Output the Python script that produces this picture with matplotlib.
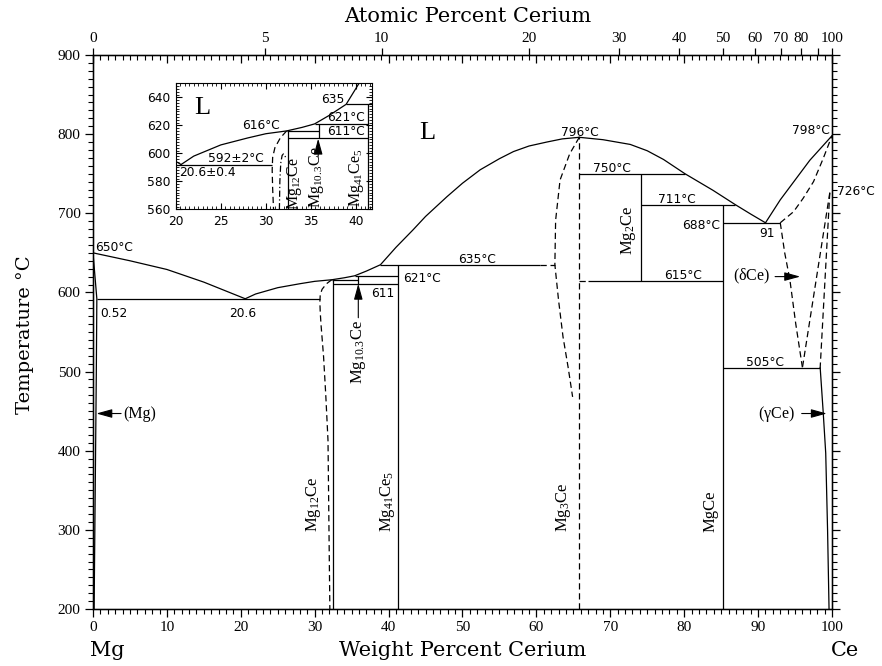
import numpy as np
import matplotlib
matplotlib.use('Agg')
import matplotlib.pyplot as plt
from matplotlib.ticker import MultipleLocator, FixedLocator, NullFormatter

plt.rcParams['mathtext.default'] = 'regular'

M_CE = 140.116
M_MG = 24.305


def at_to_wt(a):
    a = np.asarray(a, dtype=float)
    return 100 * a * M_CE / (a * M_CE + (100 - a) * M_MG)


# phase boundaries: weight percent Ce, temperature in degC
liq_mg_w = [0, 5, 10, 15, 20.6]
liq_mg_t = [650, 640, 629, 613, 592]

liq_mid_w = [20.6, 22, 25, 28, 30, 32.3, 34, 35.4, 37, 38.9, 41, 43.3, 45, 47.9,
             50, 52.4, 55, 56.9, 59, 61.4, 63.5, 65.8]
liq_mid_t = [592, 598, 606, 611, 614, 616, 618.5, 621, 627, 635, 657, 679, 696, 721,
             738, 755, 769, 778, 785, 790, 794, 796]

liq_ce_w = [65.8, 69, 72.7, 75, 77.2, 80.1, 83.9, 86.9, 89, 91]
liq_ce_t = [796, 793, 787, 779, 768, 750, 729, 711, 699, 688]

liq_end_w = [91, 93, 95, 97, 100]
liq_end_t = [688, 717, 742, 767, 798]

mg_solvus_w = [0, 0.52, 0.45, 0.35, 0.25, 0.15]
mg_solvus_t = [650, 592, 500, 400, 300, 200]

mg12_bound_w = [32.3, 31.6, 31.0, 30.75, 30.7, 30.75, 30.85, 31.2, 31.5, 31.8, 32.05]
mg12_bound_t = [616, 611, 604, 597, 588, 575, 560, 519, 470, 413, 200]

mg12_meta_w = [31.5, 31.55, 31.65, 31.8, 31.95, 32.1, 32.25]
mg12_meta_t = [560, 580, 593, 598.5, 599.6, 598.5, 596]

mg3_bound_w = [65.8, 64.5, 63.2, 62.6, 62.5, 63.0, 63.6, 64.3, 64.9]
mg3_bound_t = [796, 775, 742, 691, 635, 590, 544, 505, 468]

dce_solidus_w = [93, 94.8, 96.1, 97.5, 98.8, 100]
dce_solidus_t = [688, 702, 719, 740, 769, 798]

dce_solvus_w = [93, 93.6, 94.3, 95.1, 96]
dce_solvus_t = [688, 650, 616, 560, 505]

gd_left_w = [99.7, 96.0]
gd_left_t = [726, 505]
gd_right_w = [99.7, 98.4]
gd_right_t = [726, 505]

gce_solvus_w = [98.4, 98.8, 99.15, 99.4, 99.6]
gce_solvus_t = [505, 450, 397, 300, 200]

# invariant horizontals
iso_t = [592, 616, 611, 621, 635, 750, 711, 688, 615, 505]
iso_w0 = [0.52, 32.3, 32.45, 35.4, 38.9, 65.8, 74.2, 85.2, 67.0, 85.2]
iso_w1 = [30.7, 35.9, 41.3, 41.3, 60.5, 80.1, 86.9, 93.0, 85.2, 98.4]
iso_dash_t = [635, 615]
iso_dash_w0 = [60.5, 65.8]
iso_dash_w1 = [62.5, 67.0]

# compound lines
comp_w = [32.45, 35.9, 41.3, 74.2, 85.2]
comp_t0 = [200, 611, 200, 615, 200]
comp_t1 = [616, 621, 635, 750, 711]
mg3ce_w = 65.8
mg3ce_t = [200, 796]

at_ticks = [0, 5, 10, 20, 30, 40, 50, 60, 70, 80, 90, 100]
at_labels = ['0', '5', '10', '20', '30', '40', '50', '60', '70', '80', '', '100']

SOLID = dict(color='k', lw=0.9)
DASHED = dict(color='k', lw=0.9, ls=(0, (5, 3)))
SANS = 'DejaVu Sans'
SERIF = 'Liberation Serif'
LABEL = 'DejaVu Serif'


def draw_lines(ax):
    ax.plot(liq_mg_w, liq_mg_t, **SOLID)
    ax.plot(liq_mid_w, liq_mid_t, **SOLID)
    ax.plot(liq_ce_w, liq_ce_t, **SOLID)
    ax.plot(liq_end_w, liq_end_t, **SOLID)
    ax.plot(mg_solvus_w, mg_solvus_t, **SOLID)
    ax.plot(gce_solvus_w, gce_solvus_t, **SOLID)
    ax.plot(mg12_bound_w, mg12_bound_t, **DASHED)
    ax.plot(mg3_bound_w, mg3_bound_t, **DASHED)
    ax.plot(dce_solidus_w, dce_solidus_t, **DASHED)
    ax.plot(dce_solvus_w, dce_solvus_t, **DASHED)
    ax.plot(gd_left_w, gd_left_t, **DASHED)
    ax.plot(gd_right_w, gd_right_t, **DASHED)
    ax.hlines(iso_t, iso_w0, iso_w1, **SOLID)
    ax.hlines(iso_dash_t, iso_dash_w0, iso_dash_w1, colors='k', lw=0.9,
              linestyles=[(0, (5, 3))])
    ax.vlines(comp_w, comp_t0, comp_t1, **SOLID)
    ax.vlines(mg3ce_w, mg3ce_t[0], mg3ce_t[1], colors='k', lw=0.9,
              linestyles=[(0, (5, 3))])


def arrow(ax, tip, tail):
    ax.annotate('', xy=tip, xytext=tail,
                arrowprops=dict(arrowstyle='-|>,head_length=0.8,head_width=0.22',
                                color='k', lw=0.8, mutation_scale=12,
                                shrinkA=0, shrinkB=0))


fig = plt.figure(figsize=(8.82, 6.66), dpi=100)
ax = fig.add_axes([0.10544, 0.08559, 0.83787, 0.83183])
draw_lines(ax)
ax.set_xlim(0, 100)
ax.set_ylim(200, 900)
ax.xaxis.set_major_locator(MultipleLocator(10))
ax.xaxis.set_minor_locator(MultipleLocator(1))
ax.yaxis.set_major_locator(MultipleLocator(100))
ax.yaxis.set_minor_locator(MultipleLocator(10))
ax.tick_params(which='both', direction='out', left=True, right=True, top=False)
ax.tick_params(which='major', length=6, width=0.9, pad=3)
ax.tick_params(which='minor', length=3.5, width=0.8)
for lab in ax.get_xticklabels() + ax.get_yticklabels():
    lab.set_fontfamily(SERIF)
    lab.set_fontsize(11)
for sp in ax.spines.values():
    sp.set_linewidth(1.0)

# weight percent ticks along the top, pointing inward
axw = ax.twiny()
axw.set_xlim(0, 100)
axw.xaxis.set_major_locator(MultipleLocator(10))
axw.xaxis.set_minor_locator(MultipleLocator(1))
axw.xaxis.set_major_formatter(NullFormatter())
axw.tick_params(which='both', direction='in', top=True, bottom=False)
axw.tick_params(which='major', length=6, width=0.9)
axw.tick_params(which='minor', length=3.5, width=0.8)

# atomic percent scale
axa = ax.twiny()
axa.set_xlim(0, 100)
axa.xaxis.set_major_locator(FixedLocator(at_to_wt(at_ticks)))
axa.set_xticklabels(at_labels, fontfamily=SERIF, fontsize=11)
axa.tick_params(which='major', direction='out', length=5, width=0.9, pad=2)
axa.tick_params(which='minor', length=0)

fig.text(468 / 882, 1 - 16 / 666, 'Atomic Percent Cerium', ha='center', va='center',
         fontfamily=LABEL, fontsize=15)
fig.text(463 / 882, 1 - 651 / 666, 'Weight Percent Cerium', ha='center', va='center',
         fontfamily=LABEL, fontsize=15)
fig.text(107 / 882, 1 - 651 / 666, 'Mg', ha='center', va='center',
         fontfamily=LABEL, fontsize=15)
fig.text(845 / 882, 1 - 651 / 666, 'Ce', ha='center', va='center',
         fontfamily=LABEL, fontsize=15)
fig.text(25 / 882, 1 - 335 / 666, 'Temperature °C', ha='center', va='center',
         rotation=90, fontfamily=LABEL, fontsize=14)

# annotations on the main diagram
txt = dict(fontfamily=SANS, fontsize=8.8)
ax.text(0.3, 657, '650°C', ha='left', va='center', **txt)
ax.text(0.95, 574, '0.52', ha='left', va='center', **txt)
ax.text(20.3, 574, '20.6', ha='center', va='center', **txt)
ax.text(39.2, 599, '611', ha='center', va='center', **txt)
ax.text(41.9, 618, '621°C', ha='left', va='center', **txt)
ax.text(52.0, 642, '635°C', ha='center', va='center', **txt)
ax.text(65.9, 802, '796°C', ha='center', va='center', **txt)
ax.text(70.2, 757, '750°C', ha='center', va='center', **txt)
ax.text(79.0, 718, '711°C', ha='center', va='center', **txt)
ax.text(84.8, 685, '688°C', ha='right', va='center', **txt)
ax.text(91.2, 675, '91', ha='center', va='center', **txt)
ax.text(79.9, 621, '615°C', ha='center', va='center', **txt)
ax.text(90.9, 512, '505°C', ha='center', va='center', **txt)
ax.text(99.7, 804, '798°C', ha='right', va='center', **txt)
ax.text(100.7, 727, '726°C', ha='left', va='center', **txt)
ax.text(45.3, 801, 'L', ha='center', va='center', fontfamily=SERIF, fontsize=19)

ser = dict(fontfamily=SERIF, fontsize=11.5)
ax.text(4.1, 447, '(Mg)', ha='left', va='center', **ser)
arrow(ax, (0.45, 447), (3.8, 447))
ax.text(89.1, 620, r'($\delta$Ce)', ha='center', va='center', **ser)
arrow(ax, (95.7, 620), (92.3, 620))
ax.text(92.5, 447, r'($\gamma$Ce)', ha='center', va='center', **ser)
arrow(ax, (99.3, 447), (95.9, 447))

rot = dict(rotation=90, ha='center', fontfamily=SERIF, fontsize=12)
ax.text(29.8, 297, 'Mg$_{12}$Ce', va='bottom', **rot)
ax.text(39.9, 297, 'Mg$_{41}$Ce$_5$', va='bottom', **rot)
ax.text(63.6, 297, 'Mg$_3$Ce', va='bottom', **rot)
ax.text(83.5, 297, 'MgCe', va='bottom', **rot)
ax.text(72.5, 679, 'Mg$_2$Ce', va='center', **rot)
ax.text(35.9, 484, 'Mg$_{10.3}$Ce', va='bottom', **rot)
arrow(ax, (35.9, 611), (35.9, 568))

# enlarged view of the Mg-rich eutectic region
axi = fig.add_axes([0.1992, 0.6857, 0.2229, 0.1892])
axi.set_facecolor('white')
draw_lines(axi)
axi.plot(mg12_meta_w, mg12_meta_t, color='k', lw=0.9, ls=(0, (5, 2, 1, 2)))
axi.set_xlim(20, 41.8)
axi.set_ylim(560, 650)
axi.xaxis.set_major_locator(MultipleLocator(5))
axi.xaxis.set_minor_locator(MultipleLocator(0.5))
axi.yaxis.set_major_locator(FixedLocator([560, 580, 600, 620, 640]))
axi.yaxis.set_minor_locator(MultipleLocator(2))
axi.tick_params(which='both', direction='in', top=True, right=True)
axi.tick_params(which='major', length=4, width=0.8, labelsize=8.8)
axi.tick_params(axis='x', which='major', pad=4)
axi.tick_params(axis='y', which='major', pad=4)
axi.tick_params(which='minor', length=2, width=0.6)
for lab in axi.get_xticklabels() + axi.get_yticklabels():
    lab.set_fontfamily(SANS)

rot_i = dict(rotation=90, ha='center', fontfamily=SERIF, fontsize=11.5)
axi.text(23.0, 632.5, 'L', ha='center', va='center', fontfamily=SERIF, fontsize=19)
axi.text(38.7, 638.4, '635', ha='right', va='center', **txt)
axi.text(41.0, 625.4, '621°C', ha='right', va='center', **txt)
axi.text(41.0, 615.3, '611°C', ha='right', va='center', **txt)
axi.text(29.5, 620, '616°C', ha='center', va='center', **txt)
axi.text(26.7, 596, '592±2°C', ha='center', va='center', **txt)
axi.text(20.4, 586.6, '20.6±0.4', ha='left', va='center', **txt)
axi.text(33.2, 578.4, 'Mg$_{12}$Ce', va='center', **rot_i)
axi.text(35.6, 561, 'Mg$_{10.3}$Ce', va='bottom', **rot_i)
arrow(axi, (35.8, 610.5), (35.8, 598))
axi.text(40.05, 582.5, 'Mg$_{41}$Ce$_5$', va='center', **rot_i)

fig.savefig('out.png', dpi=100)
